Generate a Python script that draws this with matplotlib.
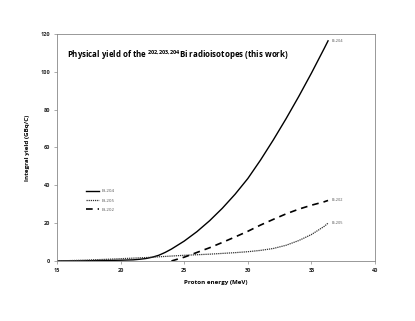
import matplotlib
matplotlib.use("Agg")
import matplotlib.pyplot as plt

# Values
energy_204 = [15, 17, 19, 20, 21, 21.5, 22, 22.5, 23, 23.5, 24, 25, 26, 27, 28, 29, 30, 31, 32, 33, 34, 35, 36, 36.3]
yield_204 = [0.0, 0.1, 0.3, 0.4, 0.6, 0.9, 1.3, 2.0, 3.0, 4.5, 6.3, 10.5, 15.5, 21.3, 27.9, 35.3, 43.6, 53.4, 64.0, 75.2, 87.0, 99.4, 112.4, 116.4]

energy_205 = [15, 17, 19, 20, 21, 22, 23, 24, 25, 26, 27, 28, 29, 30, 31, 32, 33, 34, 35, 36, 36.3]
yield_205 = [0.0, 0.4, 0.9, 1.2, 1.5, 1.8, 2.2, 2.6, 3.0, 3.3, 3.6, 4.0, 4.4, 4.9, 5.6, 6.6, 8.3, 10.8, 14.0, 18.3, 20.0]

energy_202 = [24, 25, 26, 27, 28, 29, 30, 31, 32, 33, 34, 35, 36, 36.3]
yield_202 = [0.0, 2.0, 4.5, 7.0, 9.8, 12.7, 15.7, 19.0, 22.0, 24.9, 27.4, 29.5, 31.3, 32.0]

x_ticks = [15, 20, 25, 30, 35, 40]
y_ticks = [0, 20, 40, 60, 80, 100, 120]

plt.rcParams['font.family'] = ['Open Sans', 'DejaVu Sans']
plt.rcParams['mathtext.fontset'] = 'custom'
plt.rcParams['mathtext.rm'] = 'Open Sans'
plt.rcParams['mathtext.bf'] = 'Open Sans:bold'

fig = plt.figure(figsize=(4.15, 3.21), dpi=100)
ax = fig.add_axes([0.137, 0.187, 0.767, 0.707])

ax.plot(energy_204, yield_204, color='black', linewidth=1.0, label='Bi-204')
ax.plot(energy_205, yield_205, color='#333333', linewidth=0.9, linestyle=(0, (1, 0.7)), label='Bi-205')
ax.plot(energy_202, yield_202, color='black', linewidth=1.2, linestyle=(0, (4, 3)), label='Bi-202')

# labels at the end of each curve
ax.text(36.6, yield_204[-1], 'Bi-204', fontsize=2.8, color='#555555', va='center')
ax.text(36.6, yield_202[-1], 'Bi-202', fontsize=2.8, color='#555555', va='center')
ax.text(36.6, yield_205[-1], 'Bi-205', fontsize=2.8, color='#555555', va='center')

ax.text(15.8, 109, r'Physical yield of the $^{\mathbf{202{,}203{,}204}}$Bi radioisotopes (this work)',
        fontsize=5.7, fontweight='bold', va='center')

ax.set_xlim(15, 40)
ax.set_ylim(0, 120)
ax.set_xticks(x_ticks)
ax.set_yticks(y_ticks)
ax.tick_params(labelsize=4, length=2, width=0.5, color='#888888', labelcolor='#222222', pad=3)
for lbl in ax.get_xticklabels() + ax.get_yticklabels():
    lbl.set_fontweight('bold')
for s in ax.spines.values():
    s.set_color('#888888')
    s.set_linewidth(0.6)

ax.set_xlabel('Proton energy (MeV)', fontsize=4.5, fontweight='bold', labelpad=5)
ax.set_ylabel('Integral yield (GBq/C)', fontsize=4.5, fontweight='bold', labelpad=7)

leg = ax.legend(loc='upper left', bbox_to_anchor=(0.08, 0.335), frameon=False, fontsize=3.2,
                handlelength=2.8, labelspacing=1.2, handletextpad=0.6)
for t in leg.get_texts():
    t.set_color('#555555')

fig.savefig('out.png', dpi=100)
